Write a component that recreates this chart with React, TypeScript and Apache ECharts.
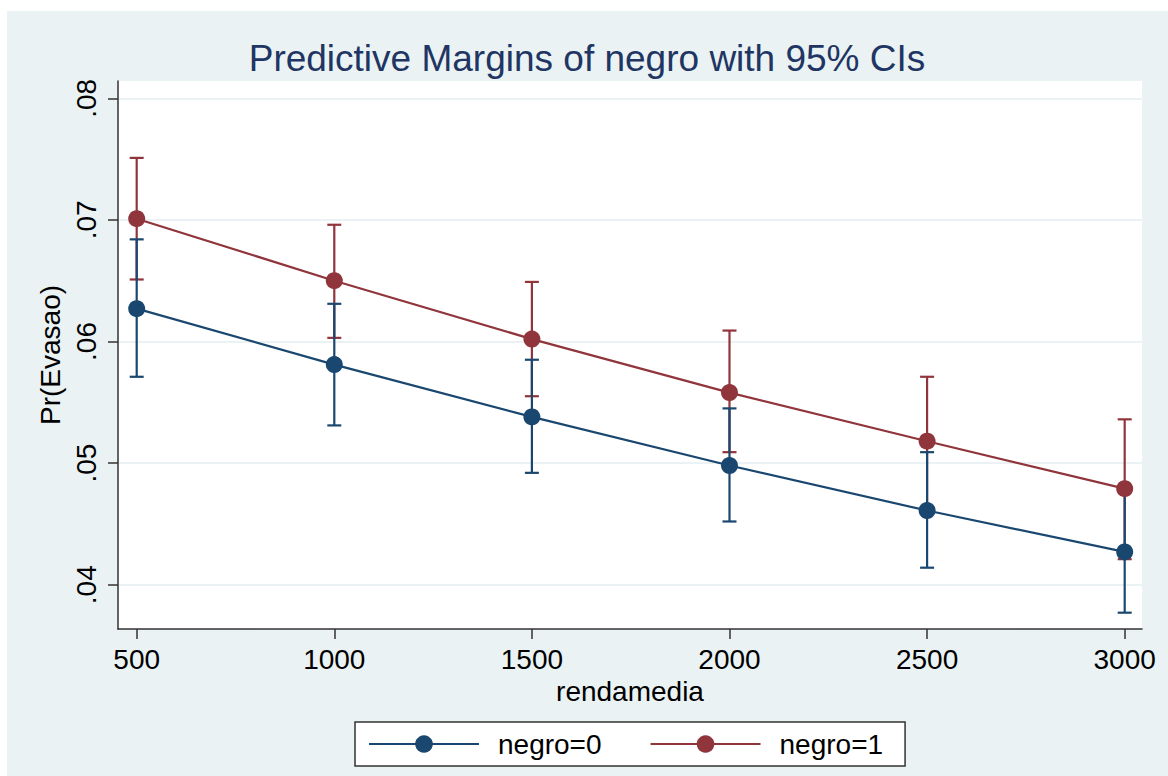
import React, { useEffect, useRef } from "react";
import * as echarts from "echarts";

const xValues = [500, 1000, 1500, 2000, 2500, 3000];
const xTicks = [500, 1000, 1500, 2000, 2500, 3000];
const yTicks = [0.04, 0.05, 0.06, 0.07, 0.08];

const negro0 = [0.0627, 0.0581, 0.0538, 0.0498, 0.0461, 0.0427];
const negro0Lower = [0.0571, 0.0531, 0.0492, 0.0452, 0.0414, 0.0377];
const negro0Upper = [0.0684, 0.0631, 0.0585, 0.0545, 0.0509, 0.0477];

const negro1 = [0.0701, 0.065, 0.0602, 0.0558, 0.0518, 0.0479];
const negro1Lower = [0.0651, 0.0603, 0.0555, 0.0509, 0.0464, 0.0421];
const negro1Upper = [0.0751, 0.0696, 0.0649, 0.0609, 0.0571, 0.0536];

const BLUE = "#1a476f";
const RED = "#90353b";
const BG = "#eaf2f3";
const FONT = "'Liberation Sans', Arial, sans-serif";

function ciRender(color: string) {
  return (params: any, api: any) => {
    const x = api.value(0);
    const lo = api.coord([x, api.value(1)]);
    const hi = api.coord([x, api.value(2)]);
    const hw = 7;
    const style = { stroke: color, lineWidth: 2.2 };
    return {
      type: "group",
      children: [
        { type: "line", shape: { x1: lo[0], y1: lo[1], x2: hi[0], y2: hi[1] }, style },
        { type: "line", shape: { x1: lo[0] - hw, y1: lo[1], x2: lo[0] + hw, y2: lo[1] }, style },
        { type: "line", shape: { x1: hi[0] - hw, y1: hi[1], x2: hi[0] + hw, y2: hi[1] }, style },
      ],
    };
  };
}

export default function App() {
  const ref = useRef<HTMLDivElement>(null);
  useEffect(() => {
    if (!ref.current) return;
    const chart = echarts.init(ref.current, null, { renderer: "svg" });
    const ci0 = xValues.map((x, i) => [x, negro0Lower[i], negro0Upper[i]]);
    const ci1 = xValues.map((x, i) => [x, negro1Lower[i], negro1Upper[i]]);
    chart.setOption({
      animation: false,
      backgroundColor: "#ffffff",
      textStyle: { fontFamily: FONT },
      graphic: [
        {
          type: "rect",
          z: -10,
          silent: true,
          shape: { x: 7, y: 11, width: 1161, height: 765 },
          style: { fill: BG },
        },
      ],
      title: {
        text: "Predictive Margins of negro with 95% CIs",
        left: 582,
        textAlign: "center",
        top: 35,
        textStyle: { fontFamily: FONT, fontSize: 37, fontWeight: "normal", color: "#1f3563" },
      },
      legend: {
        data: ["negro=0", "negro=1"],
        left: 355,
        top: 722,
        orient: "horizontal",
        itemWidth: 110,
        itemHeight: 22,
        itemGap: 48,
        padding: [8, 22, 8, 13],
        backgroundColor: "#ffffff",
        borderColor: "#333333",
        borderWidth: 1.5,
        borderRadius: 0,
        textStyle: { fontFamily: FONT, fontSize: 28, color: "#000", padding: [0, 0, 0, 14] },
      },
      grid: {
        left: 118,
        right: 26,
        top: 81,
        bottom: 147,
        show: true,
        backgroundColor: "#ffffff",
        borderWidth: 0,
      },
      xAxis: {
        type: "value",
        min: 452.7,
        max: 3043.8,
        name: "rendamedia",
        nameLocation: "middle",
        nameGap: 46,
        nameTextStyle: { fontFamily: FONT, fontSize: 28, color: "#000" },
        axisLine: { show: true, lineStyle: { color: "#333", width: 1.5 } },
        axisTick: { show: true, length: 10, customValues: xTicks, lineStyle: { color: "#333", width: 1.5 } },
        axisLabel: {
          customValues: xTicks,
          margin: 16,
          fontFamily: FONT,
          fontSize: 28,
          color: "#000",
          formatter: (v: number) => String(v),
        },
        splitLine: { show: false },
      },
      yAxis: {
        type: "value",
        min: 0.036359,
        max: 0.081422,
        name: "Pr(Evasao)",
        nameLocation: "middle",
        nameRotate: 90,
        nameGap: 52,
        nameTextStyle: { fontFamily: FONT, fontSize: 28, color: "#000" },
        axisLine: { show: true, lineStyle: { color: "#333", width: 1.5 } },
        axisTick: { show: true, length: 10, customValues: yTicks, lineStyle: { color: "#333", width: 1.5 } },
        axisLabel: {
          customValues: yTicks,
          rotate: 90,
          margin: 18,
          fontFamily: FONT,
          fontSize: 28,
          color: "#000",
          formatter: (v: number) => v.toFixed(2).replace(/^0/, ""),
        },
        splitLine: { show: true, lineStyle: { color: BG, width: 2 } },
      },
      series: [
        {
          type: "custom",
          name: "negro=1 CI",
          renderItem: ciRender(RED),
          data: ci1,
          encode: { x: 0, y: [1, 2] },
          z: 1,
          silent: true,
        },
        {
          type: "custom",
          name: "negro=0 CI",
          renderItem: ciRender(BLUE),
          data: ci0,
          encode: { x: 0, y: [1, 2] },
          z: 2,
          silent: true,
        },
        {
          type: "line",
          name: "negro=0",
          data: xValues.map((x, i) => [x, negro0[i]]),
          symbol: "circle",
          symbolSize: 17,
          itemStyle: { color: BLUE },
          lineStyle: { color: BLUE, width: 2.2 },
          z: 3,
        },
        {
          type: "line",
          name: "negro=1",
          data: xValues.map((x, i) => [x, negro1[i]]),
          symbol: "circle",
          symbolSize: 17,
          itemStyle: { color: RED },
          lineStyle: { color: RED, width: 2.2 },
          z: 4,
        },
      ],
    });
    return () => chart.dispose();
  }, []);
  return (
    <div
      ref={ref}
      style={{ position: "absolute", left: 0, top: 0, width: 1168, height: 776 }}
    />
  );
}
